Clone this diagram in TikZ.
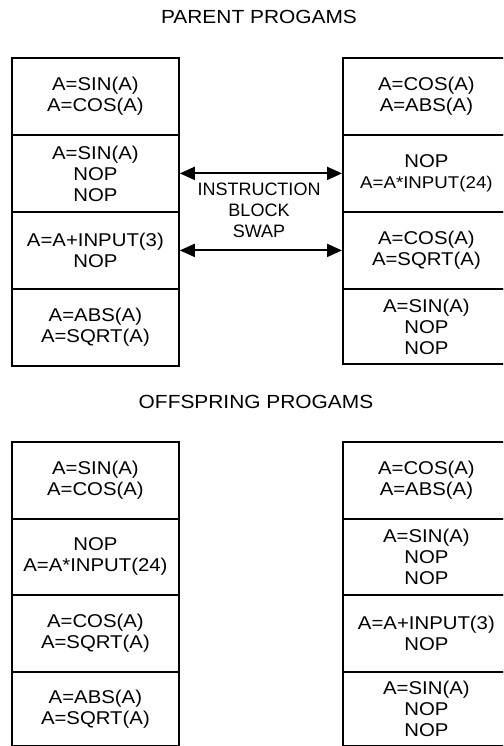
\documentclass[tikz,border=0pt]{standalone}
\usepackage{fontspec}
\setmainfont{Liberation Sans}
\newfontfamily\widefont[FakeStretch=1.1]{Liberation Sans}
\usetikzlibrary{arrows.meta}
\begin{document}
\begin{tikzpicture}[x=1pt,y=-1pt,
  blk/.style={draw, line width=1.8pt, minimum width=167pt, minimum height=77pt,
    inner sep=0pt, align=center, anchor=north west,
    font=\widefont\fontsize{18.5}{21}\selectfont},
  ttl/.style={font=\widefont\fontsize{19}{21}\selectfont},
  lbl/.style={align=center, font=\fontsize{18}{21}\selectfont},
  swaparrow/.style={line width=2pt,
    {Triangle[length=15pt,width=13pt]}-{Triangle[length=15pt,width=13pt]}}]
\clip (0,0) rectangle (503,746);
\fill[white] (0,0) rectangle (503,746);
% titles
\node[ttl] (tp) at (259,17) {PARENT PROGAMS};
\node[ttl] (to) at (256,402) {OFFSPRING PROGAMS};
% parent left
\node[blk] (lp1) at (11,57)  {A=SIN(A)\\A=COS(A)};
\node[blk] (lp2) at (11,134) {A=SIN(A)\\NOP\\NOP};
\node[blk] (lp3) at (11,211) {A=A+INPUT(3)\\NOP};
\node[blk] (lp4) at (11,288) {A=ABS(A)\\A=SQRT(A)};
% parent right
\node[blk] (rp1) at (342,57)  {A=COS(A)\\A=ABS(A)};
\node[blk] (rp2) at (342,134) {NOP\\{\fontsize{17}{21}\selectfont A=A*INPUT(24)}};
\node[blk] (rp3) at (342,211) {A=COS(A)\\A=SQRT(A)};
\node[blk, minimum height=75pt] (rp4) at (342,288) {A=SIN(A)\\NOP\\NOP};
% swap arrows
\draw[swaparrow] (lp2.east) -- (rp2.west);
\draw[swaparrow] (lp3.east) -- (rp3.west);
\node[lbl] (sw) at (259,210) {INSTRUCTION\\BLOCK\\SWAP};
% offspring left
\node[blk] (lo1) at (11,441) {A=SIN(A)\\A=COS(A)};
\node[blk, minimum height=76pt] (lo2) at (11,518) {NOP\\A=A*INPUT(24)};
\node[blk] (lo3) at (11,594) {A=COS(A)\\A=SQRT(A)};
\node[blk, minimum height=74pt] (lo4) at (11,671) {A=ABS(A)\\A=SQRT(A)};
% offspring right
\node[blk] (ro1) at (342,441) {A=COS(A)\\A=ABS(A)};
\node[blk, minimum height=76pt] (ro2) at (342,518) {A=SIN(A)\\NOP\\NOP};
\node[blk] (ro3) at (342,594) {A=A+INPUT(3)\\NOP};
\node[blk, minimum height=74pt] (ro4) at (342,671) {A=SIN(A)\\NOP\\NOP};
\end{tikzpicture}
\end{document}
